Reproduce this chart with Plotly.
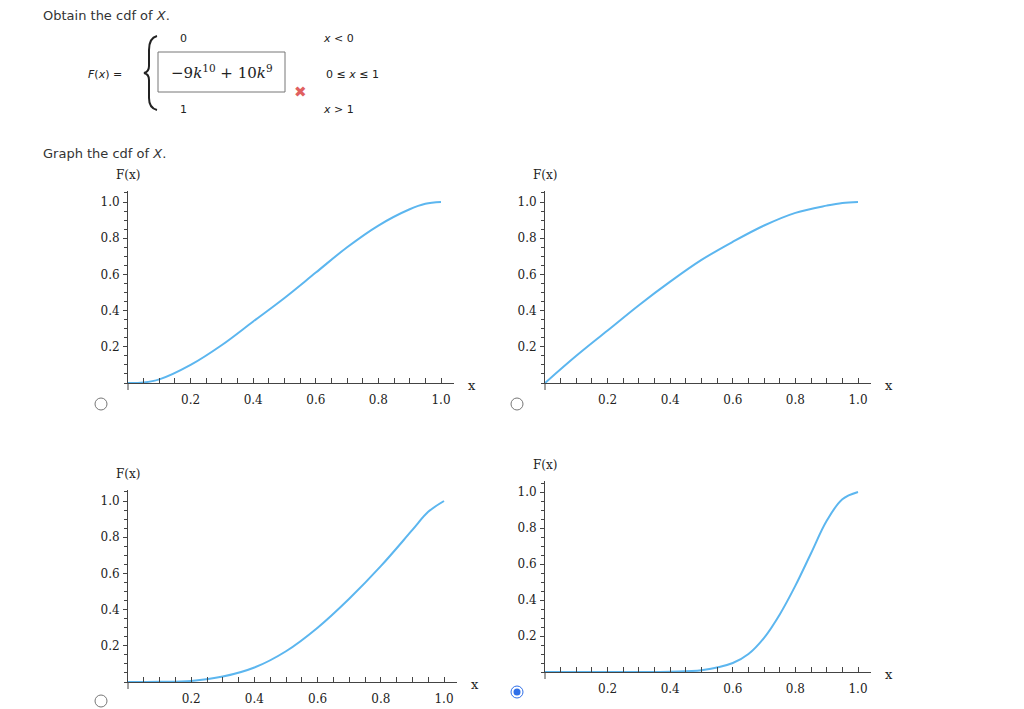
import plotly.graph_objects as go

x_a = [0, 0.05, 0.1, 0.2, 0.3, 0.4, 0.5, 0.6, 0.7, 0.8, 0.9, 0.95, 1.0]
cdf_a = [0, 0.003, 0.02, 0.1, 0.21, 0.34, 0.47, 0.61, 0.75, 0.87, 0.96, 0.99, 1.0]
x_b = [0, 0.1, 0.2, 0.3, 0.4, 0.5, 0.6, 0.7, 0.8, 0.9, 0.95, 1.0]
cdf_b = [0, 0.15, 0.29, 0.43, 0.56, 0.68, 0.78, 0.87, 0.94, 0.98, 0.995, 1.0]
x_c = [0, 0.1, 0.2, 0.3, 0.4, 0.5, 0.6, 0.7, 0.8, 0.9, 0.95, 1.0]
cdf_c = [0, 0.001, 0.006, 0.03, 0.08, 0.17, 0.3, 0.46, 0.64, 0.84, 0.94, 1.0]
x_d = [0, 0.3, 0.4, 0.5, 0.6, 0.65, 0.7, 0.75, 0.8, 0.85, 0.9, 0.95, 1.0]
cdf_d = [0, 0, 0.002, 0.01, 0.05, 0.1, 0.19, 0.32, 0.48, 0.66, 0.84, 0.96, 1.0]
tick_vals = [0.2, 0.4, 0.6, 0.8, 1.0]
tick_text = ["0.2", "0.4", "0.6", "0.8", "1.0"]

LINE = "#5cb6ef"
W, H = 1024, 709

def px(x):
    return x / W

def py(y):
    return 1 - y / H

# (left px, px per unit x, zero px, px per unit y, data)
panels = [
    (128, 313, 383, 181, x_a, cdf_a),
    (545, 313, 383, 181, x_b, cdf_b),
    (128, 316, 682, 181, x_c, cdf_c),
    (545, 313, 672, 180, x_d, cdf_d),
]

fig = go.Figure()
layout = dict(width=W, height=H, margin=dict(l=0, r=0, t=0, b=0),
              plot_bgcolor="white", paper_bgcolor="white", showlegend=False)
ann = []
shapes = []
serif = dict(family="DejaVu Serif", size=12, color="#222")
for n, (x0, sx, y0, sy, xs, ys) in enumerate(panels, start=1):
    xa = "xaxis" if n == 1 else f"xaxis{n}"
    ya = "yaxis" if n == 1 else f"yaxis{n}"
    fig.add_trace(go.Scatter(x=xs, y=ys, mode="lines",
                             line=dict(color=LINE, width=2, shape="spline", smoothing=1.0),
                             xaxis="x" if n == 1 else f"x{n}", yaxis="y" if n == 1 else f"y{n}"))
    layout[xa] = dict(domain=[px(x0), px(x0 + 1.04 * sx)], range=[0, 1.04],
                      anchor="y" if n == 1 else f"y{n}", showgrid=False, zeroline=False,
                      showline=True, linecolor="#444", linewidth=1, ticks="inside", ticklen=5,
                      tickcolor="#444", tickvals=tick_vals, ticktext=tick_text, tickfont=serif,
                      ticklabelstandoff=6,
                      minor=dict(ticks="inside", tick0=0, dtick=0.05, ticklen=5, tickcolor="#444"))
    layout[ya] = dict(domain=[py(y0), py(y0 - 1.06 * sy)], range=[0, 1.06],
                      anchor="x" if n == 1 else f"x{n}", showgrid=False, zeroline=False,
                      showline=True, linecolor="#444", linewidth=1, ticks="outside", ticklen=4,
                      tickcolor="#444", tickvals=tick_vals, ticktext=tick_text, tickfont=serif,
                      ticklabelstandoff=1,
                      minor=dict(ticks="outside", tick0=0, dtick=0.05, ticklen=3, tickcolor="#444"))
    ann.append(dict(x=px(x0 + 1.04 * sx + 18), y=py(y0 + 2), text="x",
                    font=dict(family="DejaVu Serif", size=13, color="#222")))
    ann.append(dict(x=px(x0), y=py(y0 - 1.06 * sy - 16), text="F(x)", font=serif))
    shapes.append(dict(type="line", xref="paper", yref="paper", x0=px(x0), x1=px(x0),
                       y0=py(y0), y1=py(y0 + 7), line=dict(color="#444", width=1)))

# radio buttons
for cx, cy, sel in [(101, 404, False), (517, 404, False), (101, 701, False), (517, 692, True)]:
    shapes.append(dict(type="circle", xref="paper", yref="paper", x0=px(cx - 6), x1=px(cx + 6),
                       y0=py(cy - 6), y1=py(cy + 6),
                       line=dict(color="#2f6fe8" if sel else "#777", width=1)))
    if sel:
        shapes.append(dict(type="circle", xref="paper", yref="paper", x0=px(cx - 3.5), x1=px(cx + 3.5),
                           y0=py(cy - 3.5), y1=py(cy + 3.5), fillcolor="#2f6fe8",
                           line=dict(color="#2f6fe8", width=0)))

# answer box and brace
shapes.append(dict(type="rect", xref="paper", yref="paper", x0=px(158), x1=px(285), y0=py(52), y1=py(92),
                   line=dict(color="#777", width=1)))
shapes.append(dict(type="path", xref="paper", yref="paper",
                   path=f"M {px(157)},{py(36)} Q {px(149)},{py(38)} {px(149)},{py(50)} L {px(149)},{py(66)} "
                        f"Q {px(149)},{py(72)} {px(144)},{py(73)} Q {px(149)},{py(74)} {px(149)},{py(80)} "
                        f"L {px(149)},{py(98)} Q {px(149)},{py(108)} {px(157)},{py(110)}",
                   line=dict(color="#222", width=2)))

txt = dict(family="DejaVu Sans", size=13, color="#333")
small = dict(family="DejaVu Sans", size=11, color="#222")
ann += [
    dict(x=px(41), y=py(16), text="Obtain the cdf of <i>X</i>.", xanchor="left", font=txt),
    dict(x=px(41), y=py(153), text="Graph the cdf of <i>X</i>.", xanchor="left", font=txt),
    dict(x=px(124), y=py(74), text="<i>F</i>(<i>x</i>) =", xanchor="right", font=small),
    dict(x=px(183), y=py(38), text="0", font=small),
    dict(x=px(183), y=py(110), text="1", font=small),
    dict(x=px(222), y=py(72),
         text="−9<i>k</i><sup>10</sup> + 10<i>k</i><sup>9</sup>",
         font=dict(family="DejaVu Serif", size=15, color="#222")),
    dict(x=px(338), y=py(38), text="<i>x</i> &lt; 0", font=small),
    dict(x=px(352), y=py(74), text="0 ≤ <i>x</i> ≤ 1", font=small),
    dict(x=px(338), y=py(110), text="<i>x</i> &gt; 1", font=small),
    dict(x=px(300), y=py(92), text="✖", font=dict(family="DejaVu Sans", size=15, color="#e06060")),
]
for a in ann:
    a.setdefault("xref", "paper")
    a.setdefault("yref", "paper")
    a.setdefault("showarrow", False)
    a.setdefault("xanchor", "center")
    a.setdefault("yanchor", "middle")

layout["annotations"] = ann
layout["shapes"] = shapes
fig.update_layout(**layout)
fig.write_html("out.html", config={"displayModeBar": False},
               post_script="document.body.style.margin='0';document.body.style.overflow='hidden';")
